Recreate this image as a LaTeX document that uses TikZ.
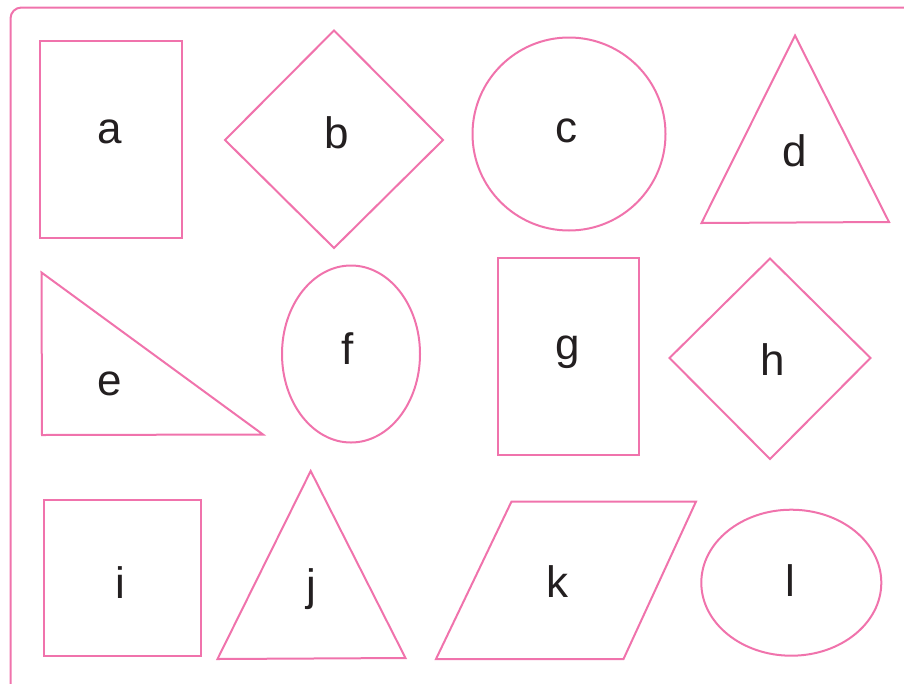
\documentclass[tikz,border=0pt]{standalone}
\usepackage{fontspec}
\setmainfont{Liberation Sans}
\definecolor{shapepink}{RGB}{240,115,172}
\definecolor{textdark}{RGB}{35,31,32}
\begin{document}
\begin{tikzpicture}[x=1pt,y=-1pt,
  shp/.style={draw=shapepink,line width=2pt,line join=miter},
  lbl/.style={anchor=base,inner sep=0pt,text=textdark,font=\fontsize{44}{48}\selectfont}]
\path[use as bounding box] (0,0) rectangle (904,683);
% frame
\draw[shp,rounded corners=11pt] (10.5,690) -- (10.5,7.5) -- (915,7.5);
% row 1
\draw[shp] (40,40.5) rectangle (181.5,237.5);
\draw[shp] (225,140) -- (334,30.5) -- (443,140) -- (334,248) -- cycle;
\draw[shp] (569,134) circle[radius=96.5];
\draw[shp] (795,35.5) -- (889,222) -- (701.5,223) -- cycle;
% row 2
\draw[shp] (41.5,272.5) -- (263,434.5) -- (42,435) -- cycle;
\draw[shp] (351,354) ellipse[x radius=69,y radius=88.5];
\draw[shp] (497.5,257.5) rectangle (638.5,455);
\draw[shp] (669.5,358) -- (770,258.5) -- (870.5,358) -- (770,459) -- cycle;
% row 3
\draw[shp] (44,500) rectangle (200.5,656);
\draw[shp] (310.7,471) -- (405.5,658) -- (217.5,659) -- cycle;
\draw[shp] (511.5,501.5) -- (696,501.5) -- (623.5,659) -- (436,659) -- cycle;
\draw[shp] (791.3,582.7) ellipse[x radius=90,y radius=73];
% labels
\node[lbl] (la) at (110,143) {a};
\node[lbl] (lb) at (336.5,148) {b};
\node[lbl] (lc) at (566.7,142.5) {c};
\node[lbl] (ld) at (794.7,166.5) {d};
\node[lbl] (le) at (110,395) {e};
\node[lbl] (lf) at (348,364) {f};
\node[lbl] (lg) at (568,359) {g};
\node[lbl] (lh) at (773,375) {h};
\node[lbl] (li) at (120,598) {i};
\node[lbl] (lj) at (311,600) {j};
\node[lbl] (lk) at (557,597) {k};
\node[lbl] (ll) at (790,596) {l};
\end{tikzpicture}
\end{document}
